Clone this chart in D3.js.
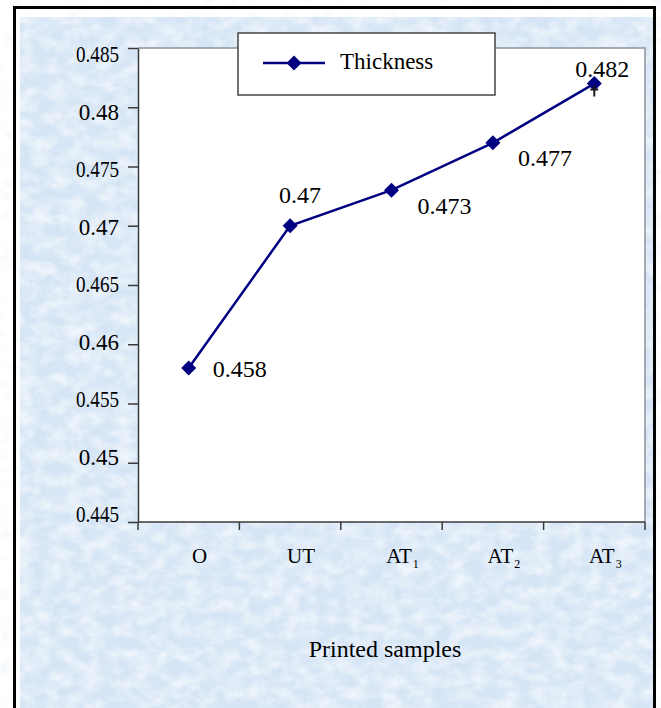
<!DOCTYPE html>
<html>
<head>
<meta charset="utf-8">
<script src="https://cdn.jsdelivr.net/npm/d3@7"></script>
<style>
  html, body { margin: 0; padding: 0; background: #fff; }
  svg { display: block; font-family: "Liberation Serif", "Times New Roman", serif; }
</style>
</head>
<body>
<svg id="chart" width="661" height="708"></svg>
<script>
// data
var categories = ["O", "UT", "AT1", "AT2", "AT3"];
var thickness = [0.458, 0.47, 0.473, 0.477, 0.482];
var yTicks = [0.445, 0.45, 0.455, 0.46, 0.465, 0.47, 0.475, 0.48, 0.485];
var seriesName = "Thickness";
var xTitle = "Printed samples";

// where each value label sits relative to its point (Excel style, hand placed)
var labelOffsets = [[24, 9], [-11, -23], [26, 24], [25, 23], [-19, -7]];

var svg = d3.select("#chart");
var margin = {top: 48, right: 16, bottom: 186, left: 138},
    width = 645 - margin.left,
    height = 522 - margin.top;

// paper texture for the background
var defs = svg.append("defs");
var f = defs.append("filter").attr("id", "paper")
    .attr("filterUnits", "userSpaceOnUse")
    .attr("x", 0).attr("y", 0).attr("width", 661).attr("height", 708);
f.append("feTurbulence").attr("type", "fractalNoise")
    .attr("baseFrequency", "0.06 0.08").attr("numOctaves", 4).attr("seed", 11).attr("result", "n");
f.append("feColorMatrix").attr("in", "n").attr("type", "matrix")
    .attr("values", "0 0 0 0 1  0 0 0 0 1  0 0 0 0 1  1.8 0 0 0 -0.62").attr("result", "w");
f.append("feColorMatrix").attr("in", "n").attr("type", "matrix")
    .attr("values", "0 0 0 0 0.78  0 0 0 0 0.84  0 0 0 0 0.93  0 1.6 0 0 -0.78").attr("result", "d");
f.append("feMerge").call(function(m) {
  m.append("feMergeNode").attr("in", "d");
  m.append("feMergeNode").attr("in", "w");
});

// outer frame
svg.append("rect").attr("x", 20).attr("y", 17).attr("width", 633).attr("height", 700)
    .attr("fill", "#d5e5f5");
svg.append("rect").attr("x", 20).attr("y", 17).attr("width", 633).attr("height", 700)
    .attr("fill", "#fff").attr("filter", "url(#paper)").attr("opacity", 0.7);
svg.append("rect").attr("x", 14.5).attr("y", 7.5).attr("width", 640).attr("height", 720)
    .attr("fill", "none").attr("stroke", "#000").attr("stroke-width", 3);

var g = svg.append("g")
    .attr("transform", "translate(" + margin.left + "," + margin.top + ")");

// scales
var x = d3.scaleBand().domain(categories).range([0, width]);
var y = d3.scaleLinear().domain([0.445, 0.485]).range([height, 0]);
// tick labels drift slightly from their ticks in the original
var labelShift = d3.scaleLinear().domain([0.485, 0.445]).range([6, -8]);

// plot area
g.append("rect").attr("width", width).attr("height", height).attr("fill", "#fff");
g.append("path")
    .attr("d", "M0,0H" + width + "V" + height)
    .attr("fill", "none").attr("stroke", "#8c939b").attr("stroke-width", 1.5);

// y axis
var yAxis = g.append("g")
    .attr("class", "axis axis--y")
    .call(d3.axisLeft(y).tickValues(yTicks).tickSize(10).tickSizeOuter(0)
      .tickFormat(function(d) { return String(d); }));
yAxis.attr("font-family", null);
yAxis.select(".domain").attr("stroke", "#3a3a3a").attr("stroke-width", 1.5);
yAxis.selectAll(".tick line").attr("stroke", "#3a3a3a").attr("stroke-width", 1.5);
yAxis.selectAll(".tick text")
    .attr("x", -19)
    .attr("dy", function(d) { return (labelShift(d) + 7.5) + "px"; })
    .attr("fill", "#000")
    .style("font-family", "'Liberation Serif', serif")
    .style("font-size", "23px")
    .each(function(d) {
      if (String(d).length > 4) {
        d3.select(this).attr("textLength", 43).attr("lengthAdjust", "spacingAndGlyphs");
      }
    });

// x axis: ticks on the category boundaries
var xAxis = g.append("g").attr("class", "axis axis--x")
    .attr("transform", "translate(0," + height + ")");
var bounds = categories.map(function(d) { return x(d); }).concat([x.range()[1]]);
xAxis.append("line").attr("x1", 0).attr("x2", width)
    .attr("stroke", "#3a3a3a").attr("stroke-width", 1.5);
xAxis.selectAll(".xtick").data(bounds).enter().append("line")
    .attr("class", "xtick")
    .attr("x1", function(d) { return d; }).attr("x2", function(d) { return d; })
    .attr("y1", 0).attr("y2", 8)
    .attr("stroke", "#3a3a3a").attr("stroke-width", 1.5);

var xLabels = xAxis.selectAll(".xlabel").data(categories).enter().append("text")
    .attr("class", "xlabel")
    .attr("x", function(d) { return x(d) + x.bandwidth() / 2 + 11; })
    .attr("y", 41)
    .attr("text-anchor", "middle")
    .style("font-size", "21px");
xLabels.each(function(d) {
  var m = d.match(/^(\D+)(\d*)$/), t = d3.select(this);
  t.append("tspan").text(m[1]);
  if (m[2]) {
    t.append("tspan").attr("dx", 1).attr("dy", 5).style("font-size", "12px").text(m[2]);
  }
});

// axis title
svg.append("text")
    .attr("x", 385).attr("y", 657)
    .attr("text-anchor", "middle")
    .style("font-size", "24px")
    .text(xTitle);

// series line
var line = d3.line()
    .x(function(d, i) { return x(categories[i]) + x.bandwidth() / 2; })
    .y(function(d) { return y(d); });

g.append("path")
    .datum(thickness)
    .attr("d", line)
    .attr("fill", "none")
    .attr("stroke", "#000080")
    .attr("stroke-width", 2.5);

var diamond = "M0,-7.5L7.5,0L0,7.5L-7.5,0Z";

g.selectAll(".pt")
  .data(thickness)
  .enter().append("path")
    .attr("class", "pt")
    .attr("d", diamond)
    .attr("transform", function(d, i) {
      return "translate(" + (x(categories[i]) + x.bandwidth() / 2) + "," + y(d) + ")";
    })
    .attr("fill", "#000080");

// little cross mark under the last point in the original
var last = thickness.length - 1;
var lx = x(categories[last]) + x.bandwidth() / 2, ly = y(thickness[last]);
g.append("path")
    .attr("d", "M" + lx + "," + (ly + 2) + "V" + (ly + 13) + "M" + (lx - 4) + "," + (ly + 6) + "H" + (lx + 4))
    .attr("stroke", "#1a1a1a").attr("stroke-width", 2);

// value labels
g.selectAll(".vlabel")
  .data(thickness)
  .enter().append("text")
    .attr("class", "vlabel")
    .attr("x", function(d, i) { return x(categories[i]) + x.bandwidth() / 2 + labelOffsets[i][0]; })
    .attr("y", function(d, i) { return y(d) + labelOffsets[i][1]; })
    .style("font-size", "24px")
    .text(function(d) { return String(d); });

// legend
var legend = svg.append("g").attr("transform", "translate(238,33)");
legend.append("rect").attr("width", 257).attr("height", 62)
    .attr("fill", "#fff").attr("stroke", "#444").attr("stroke-width", 1.5);
legend.append("line").attr("x1", 25).attr("x2", 87).attr("y1", 30).attr("y2", 30)
    .attr("stroke", "#000080").attr("stroke-width", 2.5);
legend.append("path").attr("d", diamond).attr("transform", "translate(56,30)")
    .attr("fill", "#000080");
legend.append("text").attr("x", 102).attr("y", 36)
    .style("font-size", "23px")
    .text(seriesName);
</script>
</body>
</html>
